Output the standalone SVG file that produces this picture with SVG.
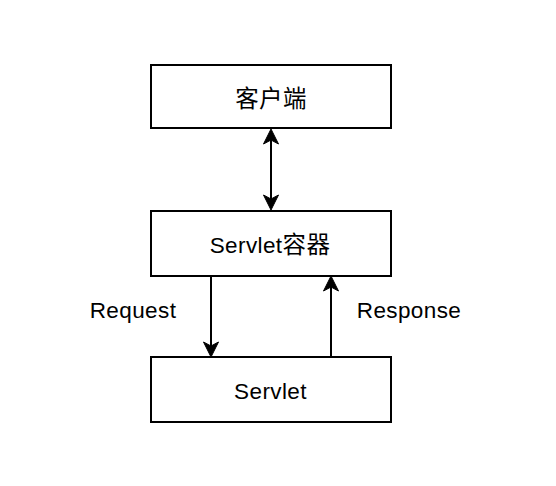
<svg xmlns="http://www.w3.org/2000/svg" width="556" height="486" viewBox="0 0 556 486">
<defs>
<style>
.box{fill:#ffffff;stroke:#000000;stroke-width:2}
.lbl{font-family:"Liberation Sans","Noto Sans CJK SC",sans-serif;font-size:22.5px;fill:#000000;text-anchor:middle;letter-spacing:0.4px}
.cjk{font-size:23.5px}
.edge{fill:none;stroke:#000000;stroke-width:2}
</style>
<marker id="arr" markerUnits="userSpaceOnUse" viewBox="-6 -8 20 16" markerWidth="20" markerHeight="16" refX="0" refY="0" orient="auto-start-reverse" overflow="visible">
<path d="M11,0 L-4,-7.5 L0,0 L-4,7.5 Z" fill="#000000" stroke="#000000" stroke-width="1"/>
</marker>
</defs>
<rect width="556" height="486" fill="#ffffff"/>
<g id="connectors">
<path class="edge" d="M271,140 L271,199" marker-start="url(#arr)" marker-end="url(#arr)"/>
<path class="edge" d="M211,276 L211,346" marker-end="url(#arr)"/>
<path class="edge" d="M331,357 L331,287" marker-end="url(#arr)"/>
</g>
<g id="client">
<rect class="box" x="151" y="65" width="240" height="63"/>
<text class="lbl cjk" x="271" y="106.5">客户端</text>
</g>
<g id="container">
<rect class="box" x="151" y="211" width="240" height="65"/>
<text class="lbl" x="270" y="253">Servlet<tspan class="cjk">容器</tspan></text>
</g>
<g id="servlet">
<rect class="box" x="151" y="357" width="240" height="65"/>
<text class="lbl" x="270.5" y="398.5">Servlet</text>
</g>
<g id="labels">
<text class="lbl" x="133" y="317.5">Request</text>
<text class="lbl" x="409" y="318">Response</text>
</g>
</svg>
